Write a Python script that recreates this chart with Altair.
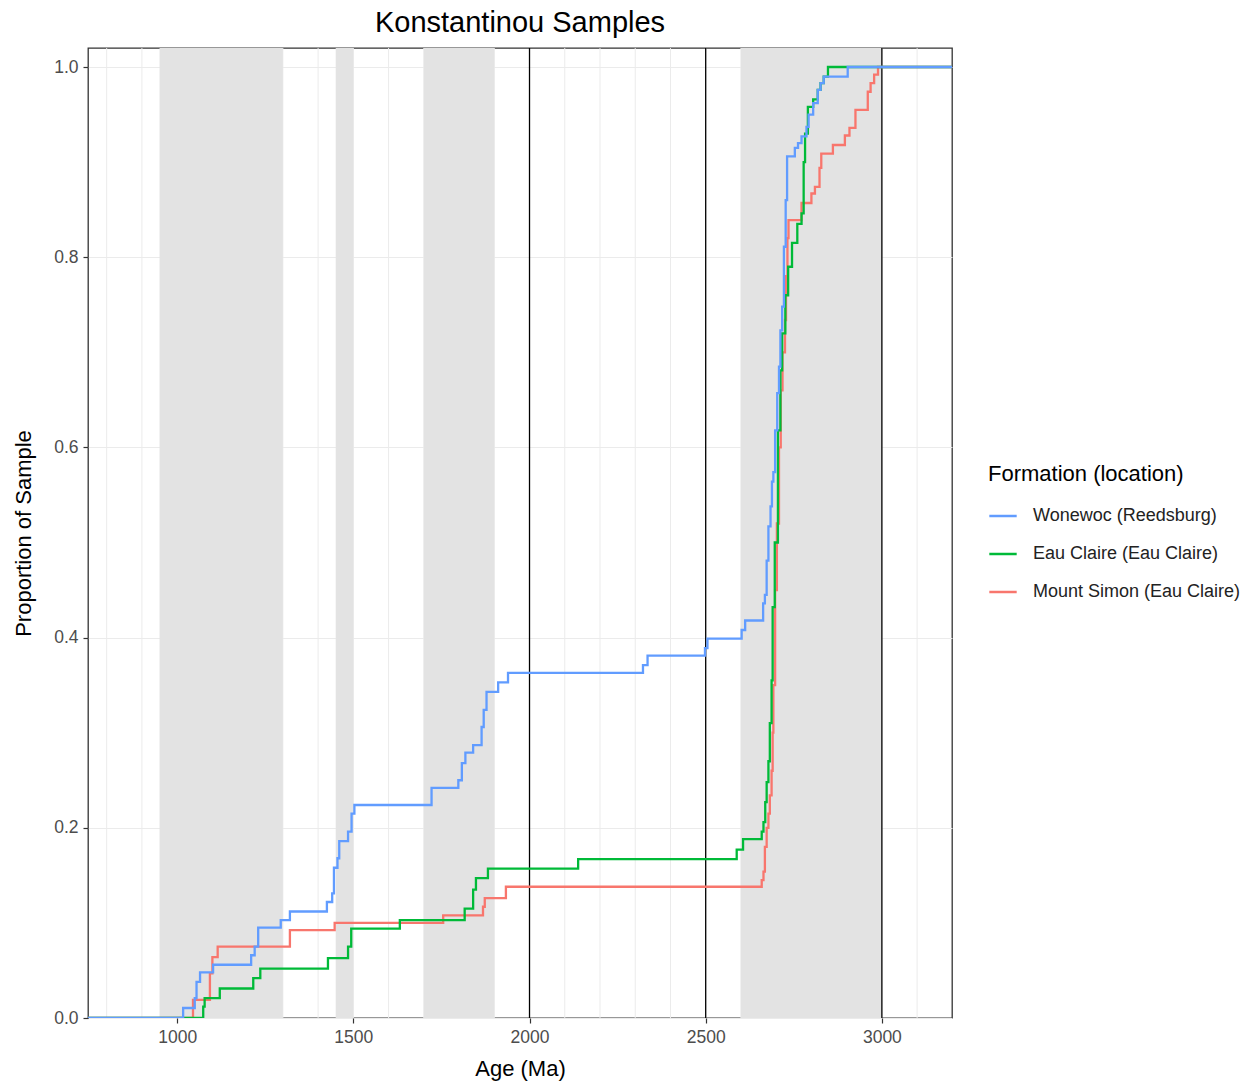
import altair as alt
import pandas as pd

FONT = "Liberation Sans"

series_names = ["Wonewoc (Reedsburg)", "Eau Claire (Eau Claire)", "Mount Simon (Eau Claire)"]
series_colors = ["#619CFF", "#00BA38", "#F8766D"]

# ECDF step points: age (Ma) at which the cumulative proportion jumps, and the new proportion
wonewoc_age = [700, 1017, 1050, 1055, 1065, 1102, 1210, 1220, 1230, 1294, 1320, 1425, 1440,
               1445, 1455, 1460, 1485, 1495, 1503, 1722, 1798, 1808, 1818, 1840, 1864, 1870,
               1878, 1911, 1939, 2322, 2335, 2498, 2505, 2602, 2612, 2663, 2668, 2673, 2678,
               2684, 2688, 2692, 2697, 2703, 2708, 2712, 2717, 2722, 2727, 2731, 2753, 2762,
               2772, 2786, 2792, 2805, 2818, 2826, 2835, 2903, 3300]
wonewoc_prop = [0.0, 0.0105, 0.021, 0.038, 0.048, 0.056, 0.066, 0.075, 0.095, 0.103, 0.112,
                0.122, 0.131, 0.158, 0.168, 0.186, 0.196, 0.215, 0.224, 0.242, 0.250, 0.268,
                0.279, 0.287, 0.306, 0.324, 0.343, 0.353, 0.363, 0.371, 0.381, 0.389, 0.399,
                0.408, 0.418, 0.436, 0.445, 0.481, 0.517, 0.538, 0.564, 0.574, 0.618, 0.657,
                0.685, 0.723, 0.748, 0.811, 0.860, 0.906, 0.915, 0.920, 0.927, 0.937, 0.950,
                0.962, 0.976, 0.983, 0.990, 1.0, 1.0]

eau_age = [700, 1074, 1078, 1121, 1216, 1236, 1428, 1485, 1494, 1632, 1816, 1840, 1848, 1882,
           2138, 2588, 2606, 2659, 2664, 2669, 2673, 2678, 2682, 2687, 2690, 2696, 2705, 2712,
           2717, 2726, 2734, 2745, 2760, 2772, 2778, 2782, 2790, 2805, 2818, 2826, 2835, 2847,
           3300]
eau_prop = [0.0, 0.012, 0.021, 0.031, 0.042, 0.052, 0.063, 0.075, 0.094, 0.103, 0.115, 0.135,
            0.147, 0.157, 0.167, 0.177, 0.188, 0.196, 0.206, 0.227, 0.248, 0.270, 0.310, 0.355,
            0.432, 0.500, 0.618, 0.681, 0.720, 0.760, 0.790, 0.815, 0.835, 0.846, 0.900, 0.930,
            0.958, 0.966, 0.976, 0.983, 0.990, 1.0, 1.0]

simon_age = [700, 1045, 1093, 1100, 1115, 1320, 1447, 1755, 1868, 1873, 1933, 2659, 2664, 2668,
             2673, 2678, 2682, 2687, 2690, 2692, 2697, 2702, 2708, 2713, 2718, 2725, 2728, 2732,
             2735, 2772, 2800, 2810, 2823, 2828, 2861, 2895, 2908, 2925, 2960, 2968, 2978, 2989,
             3300]
simon_prop = [0.0, 0.019, 0.047, 0.064, 0.075, 0.0925, 0.100, 0.108, 0.117, 0.126, 0.138, 0.145,
              0.154, 0.180, 0.200, 0.215, 0.234, 0.260, 0.300, 0.350, 0.450, 0.520, 0.600, 0.660,
              0.700, 0.734, 0.780, 0.820, 0.839, 0.857, 0.867, 0.874, 0.894, 0.909, 0.918, 0.928,
              0.936, 0.955, 0.974, 0.983, 0.992, 1.0, 1.0]

# shaded age bands and reference lines
band_start = [950, 1450, 1700, 2600]
band_end = [1300, 1500, 1900, 3000]
vline_age = [2000, 2500, 3000]
grid_age = list(range(800, 3200, 100))

x_ticks = [1000, 1500, 2000, 2500, 3000]
y_ticks = [0.0, 0.2, 0.4, 0.6, 0.8, 1.0]

rows = []
for name, ages, props in [(series_names[0], wonewoc_age, wonewoc_prop),
                          (series_names[1], eau_age, eau_prop),
                          (series_names[2], simon_age, simon_prop)]:
    for a, p in zip(ages, props):
        rows.append({"Formation": name, "age": a, "prop": p})
df = pd.DataFrame(rows)

xscale = alt.Scale(domain=[747, 3199], nice=False, zero=False)
yscale = alt.Scale(domain=[0, 1.02], nice=False, zero=False)
xaxis = alt.Axis(values=x_ticks, title="Age (Ma)", grid=False, format="d")
yaxis = alt.Axis(values=y_ticks, title="Proportion of Sample", grid=True, format=".1f")

grid = alt.Chart(pd.DataFrame({"g": grid_age})).mark_rule(
    color="#EBEBEB", strokeWidth=1
).encode(x=alt.X("g:Q", scale=xscale, axis=xaxis))

bands = alt.Chart(pd.DataFrame({"s": band_start, "e": band_end})).mark_rect(
    color="#E3E3E3"
).encode(
    x=alt.X("s:Q", scale=xscale, axis=xaxis),
    x2="e:Q",
    y=alt.datum(0, scale=yscale),
    y2=alt.datum(1.02),
)

vlines = alt.Chart(pd.DataFrame({"v": vline_age})).mark_rule(
    color="black", strokeWidth=1.3
).encode(x=alt.X("v:Q", scale=xscale, axis=xaxis))

color = alt.Color(
    "Formation:N",
    scale=alt.Scale(domain=series_names, range=series_colors),
    legend=alt.Legend(
        title="Formation (location)",
        orient="none",
        legendX=900,
        legendY=416,
        symbolType="stroke",
        symbolStrokeWidth=2.5,
        symbolSize=750,
        titleFontSize=22,
        titleFont=FONT,
        titleFontWeight="normal",
        titleColor="black",
        titlePadding=15,
        titleLimit=400,
        labelFontSize=18,
        labelFont=FONT,
        labelColor="#222222",
        labelOffset=15,
        rowPadding=14,
        labelLimit=400,
    ),
)

layers = []
for name in [series_names[2], series_names[1], series_names[0]]:
    layers.append(
        alt.Chart(df).transform_filter(alt.datum.Formation == name).mark_line(
            interpolate="step-after", strokeWidth=2.3, clip=True
        ).encode(
            x=alt.X("age:Q", scale=xscale, axis=xaxis),
            y=alt.Y("prop:Q", scale=yscale, axis=yaxis),
            color=color,
        )
    )

chart = alt.layer(grid, bands, vlines, *layers).properties(
    width=864,
    height=970,
    autosize=alt.AutoSizeParams(type="none"),
    padding={"left": 80, "top": 40, "right": 297, "bottom": 63},
    title=alt.TitleParams(
        "Konstantinou Samples", fontSize=29, font=FONT, fontWeight="normal",
        color="black", anchor="middle", offset=9,
    ),
).configure_view(
    stroke="#333333", strokeWidth=1.3
).configure_axis(
    labelFont=FONT, labelFontSize=17.5, labelColor="#4D4D4D",
    titleFont=FONT, titleFontSize=22, titleFontWeight="normal", titleColor="black",
    tickColor="#333333", tickSize=5, tickWidth=1.2, domain=False,
    gridColor="#EBEBEB", gridWidth=1, labelPadding=5,
).configure_axisX(titlePadding=13).configure_axisY(titlePadding=18)

chart.save("out.html", embed_options={"renderer": "svg", "actions": False})
